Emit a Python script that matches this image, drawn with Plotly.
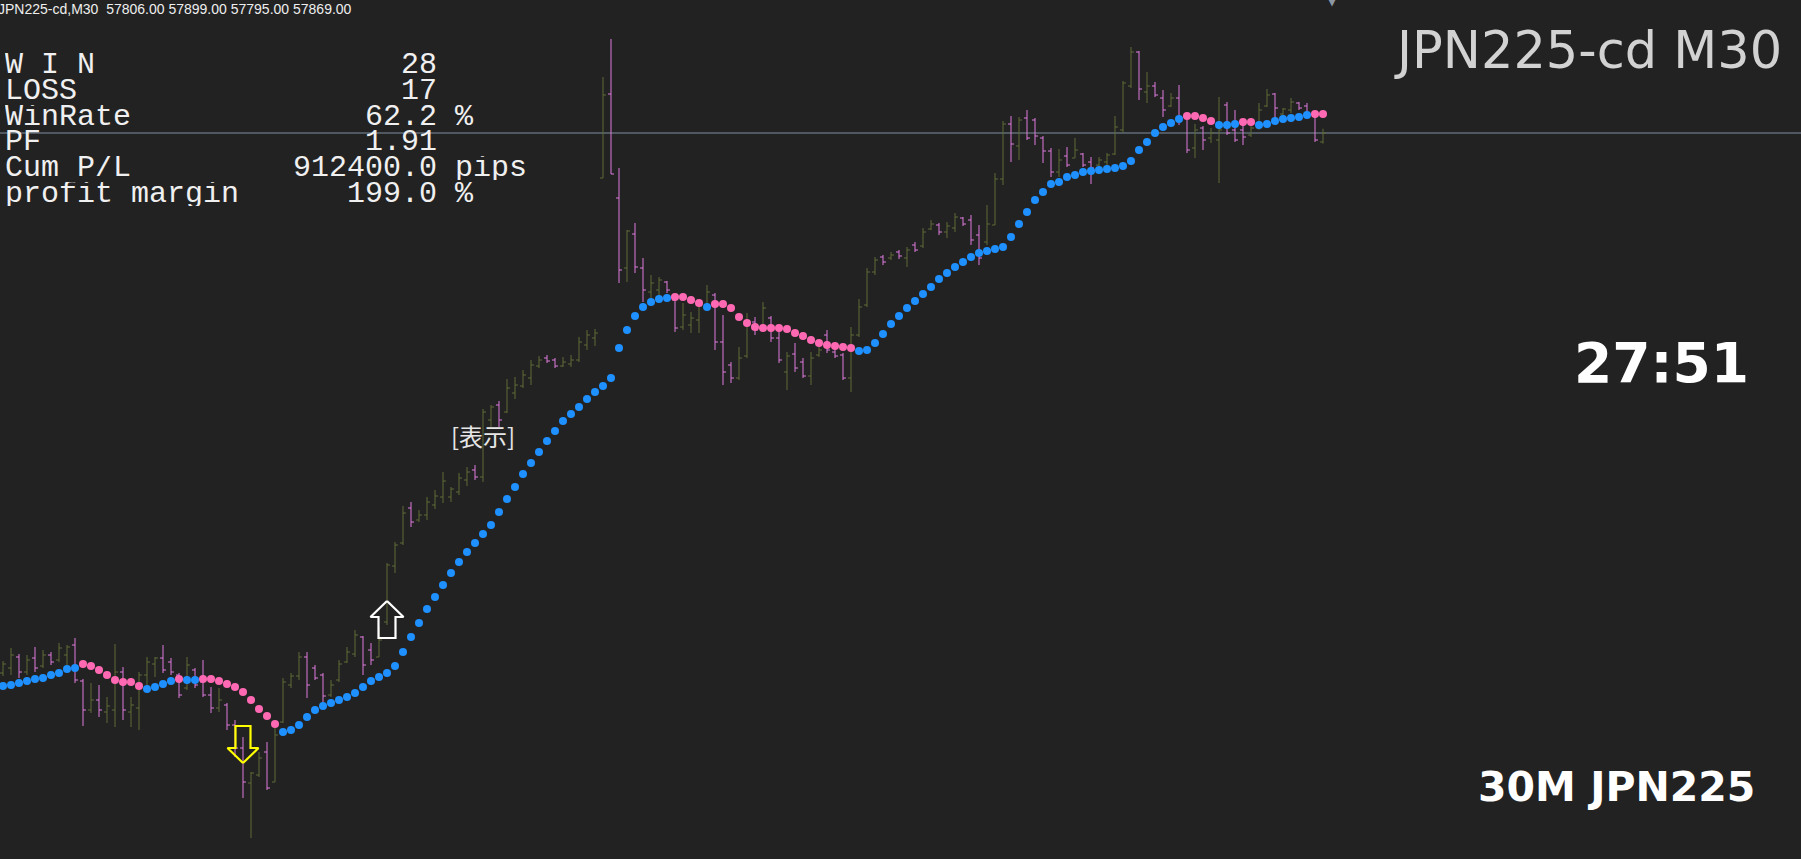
import plotly.graph_objects as go

# ---------------- data ----------------
symbol = "JPN225-cd"
timeframe = "M30"

opens = [54089, 54124, 54201, 54096, 54194, 54138, 54215, 54180, 54215, 54285,
         54033, 53830, 53900, 53816, 53830, 54096, 53816, 53844, 54075, 54152,
         54194, 54166, 54075, 53984, 54110, 54026, 53935, 53844, 53865, 53725,
         53564, 53319, 53375, 53536, 53326, 53746, 54005, 54068, 54201, 54124,
         54075, 53935, 54040, 54166, 54222, 54341, 54250, 54201, 54446, 54838,
         54999, 55244, 55160, 55195, 55265, 55321, 55321, 55356, 55440, 55510,
         55461, 55860, 55965, 55916, 56049, 56098, 56154, 56238, 56294, 56280,
         56238, 56252, 56280, 56385, 56434, 57554, 58142, 57414, 56924, 57162,
         56924, 56756, 56770, 56826, 56700, 56511, 56525, 56560, 56665, 56735,
         56406, 56245, 56154, 56308, 56546, 56504, 56574, 56434, 56196, 56322,
         56266, 56168, 56315, 56455, 56336, 56315, 56154, 56455, 56665, 56896,
         57001, 56994, 57036, 56994, 57085, 57078, 57197, 57225, 57176, 57204,
         57274, 57260, 57155, 57106, 57225, 57547, 57932, 57778, 57974, 57960,
         57834, 57743, 57596, 57708, 57694, 57722, 57666, 57645, 57666, 57722,
         57890, 58198, 58436, 58156, 58198, 58114, 58058, 58114, 57988, 57764,
         57904, 57834, 57820, 58065, 57890, 57890, 57855, 57904, 58058, 58142,
         58002, 58030, 58079, 58058, 58002, 57806]

highs = [54173, 54264, 54222, 54215, 54271, 54250, 54236, 54299, 54285, 54334,
         54047, 54019, 54005, 53921, 54292, 54131, 53921, 54096, 54201, 54201,
         54285, 54194, 54089, 54201, 54124, 54180, 53991, 53984, 53879, 53760,
         53641, 53396, 53536, 53606, 53704, 54054, 54089, 54236, 54236, 54145,
         54089, 54040, 54180, 54271, 54390, 54348, 54299, 54411, 54859, 55006,
         55258, 55286, 55230, 55321, 55370, 55496, 55391, 55489, 55531, 55545,
         55937, 55965, 55993, 56147, 56161, 56210, 56280, 56308, 56315, 56294,
         56301, 56315, 56441, 56490, 56497, 58261, 58527, 57624, 57190, 57239,
         56994, 56875, 56861, 56833, 56721, 56679, 56616, 56686, 56805, 56749,
         56595, 56266, 56371, 56609, 56581, 56686, 56588, 56490, 56336, 56399,
         56294, 56336, 56371, 56490, 56350, 56329, 56511, 56707, 56924, 57001,
         57015, 57036, 57050, 57071, 57106, 57204, 57260, 57239, 57246, 57309,
         57281, 57295, 57225, 57365, 57589, 57953, 57988, 57981, 58030, 57974,
         57848, 57764, 57757, 57771, 57834, 57729, 57701, 57701, 57729, 57988,
         58233, 58471, 58443, 58296, 58226, 58170, 58149, 58205, 58009, 57932,
         57918, 57904, 58121, 58086, 58030, 57939, 57939, 58079, 58177, 58149,
         58044, 58114, 58086, 58079, 58009, 57899]

lows = [54068, 54075, 54054, 54075, 54096, 54124, 54145, 54166, 54145, 54019,
        53718, 53809, 53781, 53739, 53711, 53760, 53711, 53690, 54005, 54061,
        54089, 54075, 53914, 53970, 53984, 53921, 53809, 53816, 53690, 53501,
        53214, 52934, 53361, 53270, 53326, 53739, 53984, 54040, 53914, 54040,
        53886, 53921, 54026, 54159, 54201, 54075, 54145, 54201, 54425, 54789,
        54985, 55111, 55146, 55160, 55237, 55279, 55286, 55335, 55398, 55440,
        55426, 55811, 55811, 55909, 56007, 56084, 56105, 56224, 56259, 56224,
        56231, 56231, 56266, 56350, 56378, 57554, 57582, 56819, 56826, 56889,
        56686, 56686, 56721, 56749, 56476, 56490, 56469, 56469, 56651, 56350,
        56105, 56119, 56140, 56294, 56455, 56490, 56406, 56259, 56070, 56196,
        56154, 56105, 56301, 56329, 56294, 56140, 56056, 56441, 56651, 56875,
        56945, 56980, 56987, 56931, 57036, 57064, 57190, 57155, 57134, 57176,
        57218, 57085, 56945, 57085, 57225, 57505, 57666, 57680, 57820, 57785,
        57659, 57561, 57561, 57631, 57694, 57631, 57512, 57631, 57631, 57715,
        57869, 58184, 58100, 58079, 58121, 57981, 58051, 57925, 57729, 57694,
        57750, 57799, 57519, 57855, 57806, 57785, 57841, 57890, 58051, 57974,
        57960, 58009, 58030, 57974, 57806, 57795]

closes = [54152, 54215, 54096, 54180, 54124, 54215, 54166, 54264, 54271, 54040,
          53830, 53900, 53830, 53858, 54096, 53830, 53865, 54075, 54166, 54194,
          54110, 54096, 53935, 54145, 54005, 53935, 53844, 53900, 53725, 53564,
          53326, 53389, 53494, 53284, 53655, 54026, 54068, 54201, 54005, 54054,
          53928, 54005, 54152, 54236, 54355, 54145, 54180, 54320, 54845, 54985,
          55209, 55146, 55195, 55286, 55328, 55433, 55377, 55454, 55496, 55461,
          55916, 55951, 55860, 56084, 56105, 56175, 56245, 56280, 56273, 56238,
          56266, 56280, 56406, 56455, 56469, 58135, 57582, 56910, 57183, 56931,
          56770, 56819, 56840, 56770, 56504, 56595, 56574, 56658, 56756, 56406,
          56196, 56154, 56294, 56546, 56490, 56644, 56434, 56280, 56308, 56224,
          56168, 56294, 56350, 56350, 56308, 56154, 56455, 56651, 56896, 56980,
          56966, 57015, 57008, 57050, 57050, 57176, 57232, 57176, 57218, 57281,
          57232, 57120, 56994, 57232, 57547, 57932, 57792, 57960, 57834, 57848,
          57743, 57596, 57680, 57645, 57750, 57645, 57624, 57680, 57715, 57911,
          58219, 58436, 58177, 58198, 58135, 58030, 58114, 57974, 57750, 57890,
          57820, 57869, 57890, 57869, 57820, 57841, 57904, 58030, 58135, 58044,
          58037, 58086, 58044, 58009, 57820, 57869]

dot_values = [53998, 54005, 54019, 54033, 54047, 54054, 54075, 54089, 54117, 54124,
              54152, 54138, 54110, 54075, 54040, 54026, 54026, 53998, 53977, 53991,
              54012, 54033, 54047, 54040, 54040, 54047, 54047, 54033, 54012, 53991,
              53956, 53900, 53837, 53788, 53732, 53676, 53690, 53725, 53781, 53830,
              53858, 53879, 53900, 53921, 53949, 53991, 54033, 54061, 54089, 54138,
              54236, 54341, 54439, 54537, 54621, 54705, 54789, 54866, 54936, 54999,
              55062, 55125, 55216, 55307, 55391, 55482, 55559, 55636, 55713, 55783,
              55853, 55902, 55951, 56007, 56056, 56098, 56154, 56364, 56490, 56588,
              56651, 56686, 56707, 56714, 56721, 56721, 56700, 56679, 56651, 56672,
              56672, 56644, 56581, 56539, 56511, 56504, 56504, 56504, 56497, 56469,
              56448, 56420, 56399, 56385, 56378, 56371, 56364, 56343, 56350, 56399,
              56462, 56532, 56588, 56644, 56693, 56742, 56791, 56847, 56889, 56931,
              56966, 57001, 57029, 57043, 57057, 57071, 57141, 57232, 57316, 57400,
              57456, 57512, 57526, 57561, 57575, 57596, 57603, 57610, 57617, 57624,
              57638, 57673, 57750, 57806, 57869, 57911, 57939, 57967, 57988, 57988,
              57974, 57953, 57925, 57925, 57932, 57946, 57946, 57925, 57932, 57953,
              57967, 57974, 57981, 57995, 58002, 58002]

# bars whose dot is drawn in the "down" colour
pink_dot_index = [10, 11, 12, 13, 14, 15, 16, 17, 22,
                  25, 26, 27, 28, 29, 30, 31, 32, 33, 34,
                  84, 85, 86, 87,
                  89, 90, 91, 92, 93, 94, 95, 96, 97, 98, 99, 100,
                  101, 102, 103, 104, 105, 106,
                  148, 149, 150, 151, 155, 156, 164, 165]

# entry signals: bar index, price at the arrow tip, side
signal_index = [30, 48]
signal_price = [53459, 54593]
signal_side = ["sell", "buy"]

stat_labels = ["W I N", "LOSS", "WinRate", "PF", "Cum P/L", "profit margin"]
stat_values = ["28", "17", "62.2", "1.91", "912400.0", "199.0"]
stat_units = ["", "", "%", "", "pips", "%"]

countdown_text = "27:51"
corner_label = "30M JPN225"
button_label = "[表示]"

# ---------------- styling ----------------
BG = "#222222"
UP_BAR = "#5E6A36"
DOWN_BAR = "#DD7ADD"
DOT_UP = "#1E90FF"
DOT_DOWN = "#FF69B4"
PRICE_LINE = "#7F8FA0"

W, H = 1801, 859
X_RANGE = [-0.375, -0.375 + W / 8]
Y_RANGE = [58800 - 7 * H, 58800]
X_PER_PX = (X_RANGE[1] - X_RANGE[0]) / W
Y_PER_PX = (Y_RANGE[1] - Y_RANGE[0]) / H

# hollow block-arrow glyph outline in screen pixels (tip at 0,0, +dy = away from tip)
ARROW_GLYPH = {
    "buy": [(0, 0), (16.5, 16), (8.5, 16), (8.5, 37), (-8.5, 37), (-8.5, 16), (-16.5, 16), (0, 0)],
    "sell": [(0, 0), (15.5, 15), (7.5, 15), (7.5, 37), (-7.5, 37), (-7.5, 15), (-15.5, 15), (0, 0)],
}
ARROW_COLOR = {"buy": "#FFFFFF", "sell": "#FFFF00"}

bar_index = list(range(len(closes)))
pink_set = set(pink_dot_index)

fig = go.Figure()

fig.add_trace(go.Ohlc(
    x=bar_index, open=opens, high=highs, low=lows, close=closes,
    increasing=dict(line=dict(color=UP_BAR, width=1)),
    decreasing=dict(line=dict(color=DOWN_BAR, width=1)),
    tickwidth=0.38, hoverinfo="skip", showlegend=False,
))

blue_x = [i for i in bar_index if i not in pink_set]
pink_x = [i for i in bar_index if i in pink_set]
fig.add_trace(go.Scatter(
    x=blue_x, y=[dot_values[i] for i in blue_x], mode="markers",
    marker=dict(color=DOT_UP, size=8, line=dict(width=0)),
    hoverinfo="skip", showlegend=False,
))
fig.add_trace(go.Scatter(
    x=pink_x, y=[dot_values[i] for i in pink_x], mode="markers",
    marker=dict(color=DOT_DOWN, size=8, line=dict(width=0)),
    hoverinfo="skip", showlegend=False,
))

for idx, price, side in zip(signal_index, signal_price, signal_side):
    direction = 1 if side == "buy" else -1  # buy: body below tip, sell: body above tip
    xs = [idx + dx * X_PER_PX for dx, dy in ARROW_GLYPH[side]]
    ys = [price - direction * dy * Y_PER_PX for dx, dy in ARROW_GLYPH[side]]
    fig.add_trace(go.Scatter(
        x=xs, y=ys, mode="lines",
        line=dict(color=ARROW_COLOR[side], width=2.2),
        hoverinfo="skip", showlegend=False,
    ))

# current price line
fig.add_shape(type="line", xref="paper", x0=0, x1=1, yref="y",
              y0=closes[-1], y1=closes[-1],
              line=dict(color=PRICE_LINE, width=1), layer="below")

annotations = []

header = "{},{}\u00a0\u00a0{:.2f} {:.2f} {:.2f} {:.2f}".format(
    symbol, timeframe, opens[-1], highs[-1], lows[-1], closes[-1])
annotations.append(dict(text=header, xref="paper", yref="paper", x=0, y=1 - 9 / H,
                        xanchor="left", yanchor="middle", xshift=-4, showarrow=False,
                        font=dict(family="Liberation Sans", size=14, color="#EEEEEE")))

for k, (lab, val, unit) in enumerate(zip(stat_labels, stat_values, stat_units)):
    line = lab.ljust(16) + val.rjust(8) + ((" " + unit) if unit else "")
    line = line.replace(" ", "\u00a0")
    yc = 64.7 + 25.9 * k
    annotations.append(dict(text=line, xref="paper", yref="paper", x=3 / W, y=1 - yc / H,
                            xanchor="left", yanchor="middle", showarrow=False,
                            height=24, valign="middle",
                            font=dict(family="Liberation Mono", size=30, color="#F0F0F0")))

annotations.append(dict(text=symbol + " " + timeframe, xref="paper", yref="paper",
                        x=1784 / W, y=1 - 50.5 / H, xanchor="right", yanchor="middle",
                        showarrow=False,
                        font=dict(family="DejaVu Sans", size=51, color="#D2D2D2")))

annotations.append(dict(text="<b>" + countdown_text + "</b>", xref="paper", yref="paper",
                        x=1661 / W, y=1 - 363 / H, xanchor="center", yanchor="middle",
                        showarrow=False,
                        font=dict(family="DejaVu Sans", size=55, color="#FFFFFF")))

annotations.append(dict(text="<b>" + corner_label + "</b>", xref="paper", yref="paper",
                        x=1616 / W, y=1 - 787 / H, xanchor="center", yanchor="middle",
                        showarrow=False,
                        font=dict(family="DejaVu Sans", size=41, color="#FFFFFF")))

annotations.append(dict(text=button_label, xref="paper", yref="paper",
                        x=483 / W, y=1 - 435 / H, xanchor="center", yanchor="middle",
                        showarrow=False,
                        font=dict(family="Noto Sans CJK JP", size=24, color="#E6E6E6")))

annotations.append(dict(text="\u25bc", xref="paper", yref="paper",
                        x=1332 / W, y=1, xanchor="center", yanchor="middle",
                        showarrow=False,
                        font=dict(family="DejaVu Sans", size=13, color="#8C97A3")))

fig.update_layout(
    width=W, height=H,
    margin=dict(l=0, r=0, t=0, b=0, pad=0),
    paper_bgcolor=BG, plot_bgcolor=BG,
    showlegend=False,
    annotations=annotations,
    xaxis=dict(range=X_RANGE, visible=False, showgrid=False,
               zeroline=False, rangeslider=dict(visible=False), fixedrange=True),
    yaxis=dict(range=Y_RANGE, visible=False, showgrid=False,
               zeroline=False, fixedrange=True),
    hovermode=False,
)

fig.write_html("out.html", include_plotlyjs=True,
               config={"displayModeBar": False, "staticPlot": True},
               post_script="document.body.style.margin='0';document.body.style.overflow='hidden';")
